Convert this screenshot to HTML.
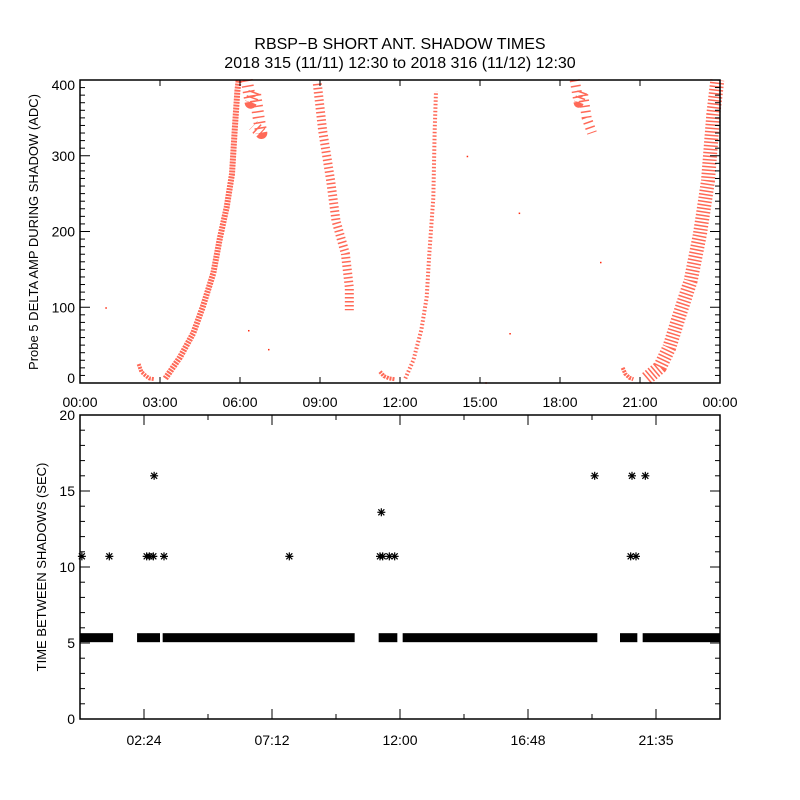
<!DOCTYPE html>
<html><head><meta charset="utf-8"><style>
body{margin:0;background:#fff;}
svg{display:block;font-family:"Liberation Sans",sans-serif;}
</style></head><body>
<svg id="chart" width="800" height="800" viewBox="0 0 800 800">
<rect width="800" height="800" fill="#fff"/>
<text x="400" y="49" text-anchor="middle" font-size="16">RBSP−B SHORT ANT. SHADOW TIMES</text>
<text x="400" y="68" text-anchor="middle" font-size="16">2018 315 (11/11) 12:30 to 2018 316 (11/12) 12:30</text>
<g id="topPanel"></g>
<g id="botPanel"></g>
</svg>
<script>
// ---- Top panel data (hour, ADC value) ----
const hookA = [[2.2,25],[2.3,15],[2.45,10],[2.6,6],[2.8,5]];
const riseB = [[3.2,6],[3.75,34],[4.25,66],[4.6,100],[5.0,145],[5.25,192],[5.5,232],[5.7,276],[5.8,333],[5.9,385],[5.95,400]];
const clusterC = [[6.25,400],[6.4,370],[6.55,385],[6.7,350],[6.8,330],[6.5,340]];
const fallD = [[8.9,395],[9.1,333],[9.4,267],[9.6,214],[9.95,171],[10.1,126],[10.1,96]];
const hookE = [[11.25,15],[11.4,9],[11.6,6],[11.8,5]];
const riseF = [[12.2,6],[12.5,30],[12.8,70],[13.0,113],[13.1,171],[13.25,245],[13.3,333],[13.35,385]];
const clusterG = [[18.55,400],[18.7,370],[18.85,385],[19.0,350],[19.2,330]];
const hookH = [[20.35,20],[20.45,12],[20.6,7],[20.75,5]];
const riseI = [[21.25,6],[21.75,21],[22.1,47],[22.5,92],[22.9,135],[23.25,197],[23.55,267],[23.75,355],[23.9,400]];
const strays = [[0.95,100],[6.3,70],[7.05,45],[16.45,225],[16.1,66],[15.2,1],[19.5,160],[14.5,300]];
const topSeries = [hookA,riseB,clusterC,fallD,hookE,riseF,clusterG,hookH,riseI];
const topWidths = [4,6,12,9,4,4,10,4,14];
const topDash = ["2 1","2 1","1.5 4","1.5 2.5","2 1","1.5 2","1.5 4","2 1","1.5 2"];
const topYTicks = [0,100,200,300,400];
const topXLabels = ["00:00","03:00","06:00","09:00","12:00","15:00","18:00","21:00","00:00"];

// ---- Bottom panel data ----
const bandSegments = [[0,1.24],[2.14,3.0],[3.1,10.3],[11.2,11.9],[12.1,19.4],[20.25,20.9],[21.1,24]];
const bandValue = 5.35;
const starHours = [0.07,1.1,2.5,2.6,2.75,2.78,3.15,7.85,11.25,11.35,11.3,11.6,11.8,19.3,20.65,20.85,20.7,21.2];
const starValues = [10.7,10.7,10.7,10.7,10.7,16,10.7,10.7,10.7,10.7,13.6,10.7,10.7,16,10.7,10.7,16,16];
const botYTicks = [0,5,10,15,20];
const botXLabels = ["02:24","07:12","12:00","16:48","21:35"];

const NS="http://www.w3.org/2000/svg";
function mk(parent,tag,attrs){const e=document.createElementNS(NS,tag);for(const k in attrs)e.setAttribute(k,attrs[k]);parent.appendChild(e);return e;}
const L=80,R=720;
const xS=h=>L+(R-L)*h/24;
const tT=80,tB=383;
const yT=v=>tB-(tB-tT)*v/400;
const bT=415,bB=719;
const yBt=v=>bB-(bB-bT)*v/20;

const topG=document.getElementById('topPanel'), botG=document.getElementById('botPanel');

topSeries.forEach((s,i)=>{
  const pl=mk(topG,'polyline',{points:s.map(p=>xS(p[0])+','+yT(p[1])).join(' '),fill:'none',stroke:'#ff2a10','stroke-width':topWidths[i],'stroke-opacity':0.7,'stroke-linejoin':'round','stroke-linecap':'butt','stroke-dasharray':topDash[i]});
  
  
});
strays.forEach(p=>{
  const r=mk(topG,'rect',{x:xS(p[0]),y:yT(p[1]),width:1.5,height:1.5,fill:'#ff2a10'});
  
  
});
const tf=mk(topG,'rect',{x:L,y:tT,width:R-L,height:tB-tT,fill:'none',stroke:'#000','stroke-width':1.5});


for(let v=0;v<=400;v+=10){
  const len=v%100===0?10:5;
  mk(topG,'line',{x1:L,x2:L+len,y1:yT(v),y2:yT(v),stroke:'#000'});
  mk(topG,'line',{x1:R,x2:R-len,y1:yT(v),y2:yT(v),stroke:'#000'});
}
topYTicks.forEach(v=>{
  const t=mk(topG,'text',{x:75,y:Math.min(Math.max(yT(v)+5,90),383),'text-anchor':'end','font-size':14});
  t.textContent=v;
  
  
});
topXLabels.forEach((s,i)=>{
  const x=xS(i*3);
  mk(topG,'line',{x1:x,x2:x,y1:tB,y2:tB-6,stroke:'#000'});
  mk(topG,'line',{x1:x,x2:x,y1:tT,y2:tT+6,stroke:'#000'});
  const t=mk(topG,'text',{x:x,y:407,'text-anchor':'middle','font-size':14});
  t.textContent=s;
  
  
});
const tyl=mk(topG,'text',{x:0,y:0,'text-anchor':'middle','font-size':13,transform:'translate(38,232) rotate(-90)'});
tyl.textContent='Probe 5 DELTA AMP DURING SHADOW (ADC)';



bandSegments.forEach(s=>{
  const r=mk(botG,'rect',{x:xS(s[0]),y:yBt(bandValue)-4.5,width:xS(s[1])-xS(s[0]),height:9,fill:'#000'});
  
  
});
starHours.forEach((h,i)=>{
  const cx=xS(h),cy=yBt(starValues[i]);
  const g=mk(botG,'g',{stroke:'#000','stroke-width':1.2});
  
  
  mk(g,'line',{x1:cx-4,x2:cx+4,y1:cy,y2:cy});
  mk(g,'line',{x1:cx,x2:cx,y1:cy-4,y2:cy+4});
  mk(g,'line',{x1:cx-3,x2:cx+3,y1:cy-3,y2:cy+3});
  mk(g,'line',{x1:cx-3,x2:cx+3,y1:cy+3,y2:cy-3});
});
const bf=mk(botG,'rect',{x:L,y:bT,width:R-L,height:bB-bT,fill:'none',stroke:'#000','stroke-width':1.5});


for(let v=0;v<=20;v++){
  const len=v%5===0?10:5;
  mk(botG,'line',{x1:L,x2:L+len,y1:yBt(v),y2:yBt(v),stroke:'#000'});
  mk(botG,'line',{x1:R,x2:R-len,y1:yBt(v),y2:yBt(v),stroke:'#000'});
}
botYTicks.forEach(v=>{
  const t=mk(botG,'text',{x:75,y:yBt(v)+5,'text-anchor':'end','font-size':14});
  t.textContent=v;
  
  
});
for(let k=1;k<10;k++){
  const x=xS(k*2.4), len=k%2===1?10:5;
  mk(botG,'line',{x1:x,x2:x,y1:bB,y2:bB-len,stroke:'#000'});
  mk(botG,'line',{x1:x,x2:x,y1:bT,y2:bT+len,stroke:'#000'});
}
botXLabels.forEach((s,i)=>{
  const t=mk(botG,'text',{x:xS(2.4+i*4.8),y:745,'text-anchor':'middle','font-size':14});
  t.textContent=s;
  
  
});
const byl=mk(botG,'text',{x:0,y:0,'text-anchor':'middle','font-size':13,transform:'translate(46,567) rotate(-90)'});
byl.textContent='TIME BETWEEN SHADOWS (SEC)';


</script>
</body></html>
